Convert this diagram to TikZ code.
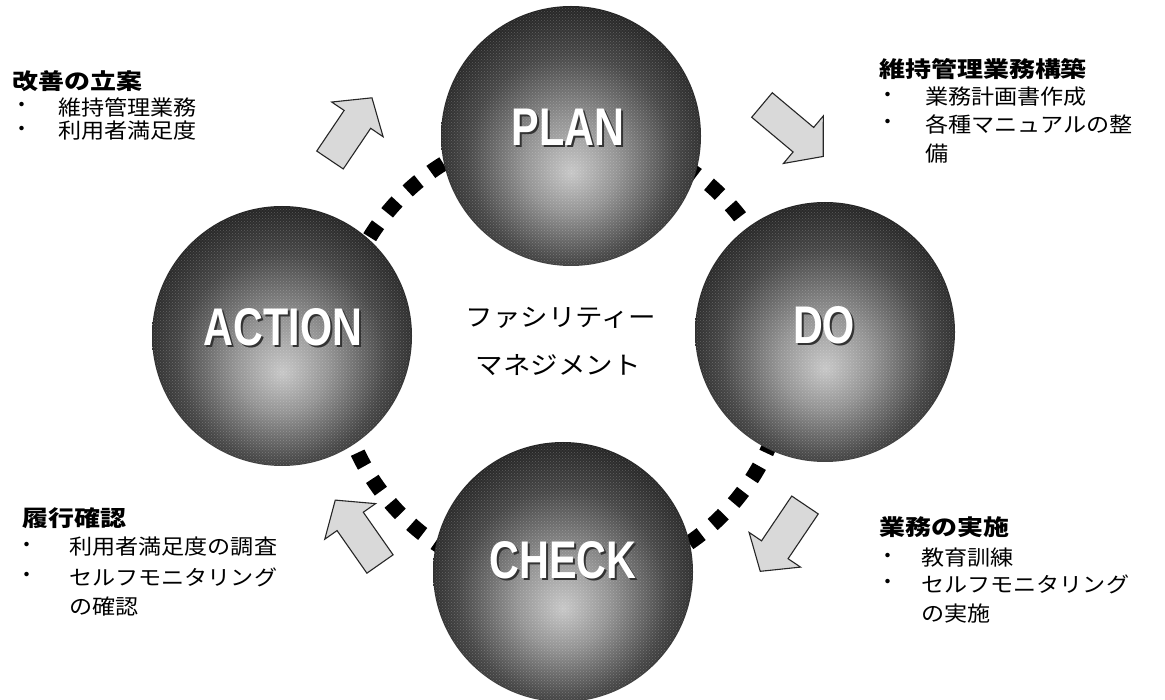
\documentclass[tikz,border=0pt]{standalone}
\usepackage{fontspec}
\usetikzlibrary{patterns}
\newfontfamily\jp{Noto Sans CJK JP}
\newfontfamily\lat{Liberation Sans}
\pgfdeclareradialshading{sph}{\pgfpoint{0bp}{-7bp}}{color(0bp)=(black!22); color(9bp)=(black!42); color(20bp)=(black!72); color(32bp)=(black!92); color(50bp)=(black)}
\tikzset{
  sphere/.style={circle, minimum size=260pt, inner sep=0pt, shading=sph, shade},
  sptex/.style={circle, minimum size=258pt, inner sep=0pt, pattern=crosshatch dots, pattern color=white, opacity=0.22},
  splabel/.style={font=\lat\bfseries\fontsize{53}{53}\selectfont, text=white, xscale=0.78, inner sep=0pt},
  spshadow/.style={font=\lat\bfseries\fontsize{53}{53}\selectfont, text=black!80, xscale=0.78, inner sep=0pt},
  ttl/.style={font=\jp\bfseries\fontsize{22}{22}\selectfont, xscale=1.18, anchor=west, inner sep=0pt},
  itm/.style={font=\jp\fontsize{21}{21}\selectfont, xscale=1.1, anchor=west, inner sep=0pt},
  bul/.style={font=\jp\fontsize{21}{21}\selectfont, inner sep=0pt},
  ctr/.style={font=\jp\fontsize{25}{25}\selectfont, xscale=1.1, inner sep=0pt},
  ring/.style={line width=15pt, dash pattern=on 15pt off 15pt},
  barrow/.style={fill=black!15, draw=black!85, line width=1.1pt, line join=miter}
}
\newcommand\blockarrow[3]{%
  \begin{scope}[shift={#1}, rotate=#2]
    \draw[barrow] (0pt,-16pt) -- (#3pt-26pt,-16pt) -- (#3pt-26pt,-31pt) -- (#3pt,0pt)
      -- (#3pt-26pt,31pt) -- (#3pt-26pt,16pt) -- (0pt,16pt) -- cycle;
  \end{scope}}
\begin{document}
\begin{tikzpicture}[x=1pt,y=-1pt]
\useasboundingbox[fill=white] (0,0) rectangle (1165,700);
% dashed ring behind the spheres
\draw[ring] (562,356) circle (226pt);
% spheres
\node[sphere] (plan) at (571,136) {};
\node[sphere] (action) at (282,336) {};
\node[sphere] (do) at (825,332) {};
\node[sphere] (check) at (563,572) {};
\node[sptex] (planT) at (plan) {};
\node[sptex] (actionT) at (action) {};
\node[sptex] (doT) at (do) {};
\node[sptex] (checkT) at (check) {};
% sphere labels
\node[spshadow] (planS) at ([shift={(2pt,-2pt)}]568,127) {PLAN};
\node[splabel] (planL) at (568,127) {PLAN};
\node[spshadow] (actionS) at ([shift={(2pt,-2pt)}]283,327) {ACTION};
\node[splabel] (actionL) at (283,327) {ACTION};
\node[spshadow] (doS) at ([shift={(2pt,-2pt)}]824,325) {DO};
\node[splabel] (doL) at (824,325) {DO};
\node[spshadow] (checkS) at ([shift={(2pt,-2pt)}]563,560) {CHECK};
\node[splabel] (checkL) at (563,560) {CHECK};
% block arrows
\blockarrow{(330,160)}{56}{75}
\blockarrow{(762,105)}{-40}{80}
\blockarrow{(805,505)}{-124}{80}
\blockarrow{(380,564)}{125}{78}
% centre text
\node[ctr] (c1) at (561,318) {ファシリティー};
\node[ctr] (c2) at (558,365) {マネジメント};
% upper left
\node[ttl] (ulT) at (12,81) {改善の立案};
\node[bul] (ulB1) at (22,107) {・};
\node[bul] (ulB2) at (22,131) {・};
\node[itm] (ul1) at (58,107) {維持管理業務};
\node[itm] (ul2) at (58,131) {利用者満足度};
% upper right
\node[ttl] (urT) at (879,69) {維持管理業務構築};
\node[bul] (urB1) at (888,97) {・};
\node[bul] (urB2) at (888,124) {・};
\node[itm] (ur1) at (925,97) {業務計画書作成};
\node[itm] (ur2) at (925,124) {各種マニュアルの整};
\node[itm] (ur3) at (925,154) {備};
% lower left
\node[ttl] (llT) at (22,518) {履行確認};
\node[bul] (llB1) at (27,547) {・};
\node[bul] (llB2) at (27,577) {・};
\node[itm] (ll1) at (69,547) {利用者満足度の調査};
\node[itm] (ll2) at (69,577) {セルフモニタリング};
\node[itm] (ll3) at (69,607) {の確認};
% lower right
\node[ttl] (lrT) at (879,527) {業務の実施};
\node[bul] (lrB1) at (888,558) {・};
\node[bul] (lrB2) at (888,584) {・};
\node[itm] (lr1) at (921,558) {教育訓練};
\node[itm] (lr2) at (921,584) {セルフモニタリング};
\node[itm] (lr3) at (921,614) {の実施};
\end{tikzpicture}
\end{document}
